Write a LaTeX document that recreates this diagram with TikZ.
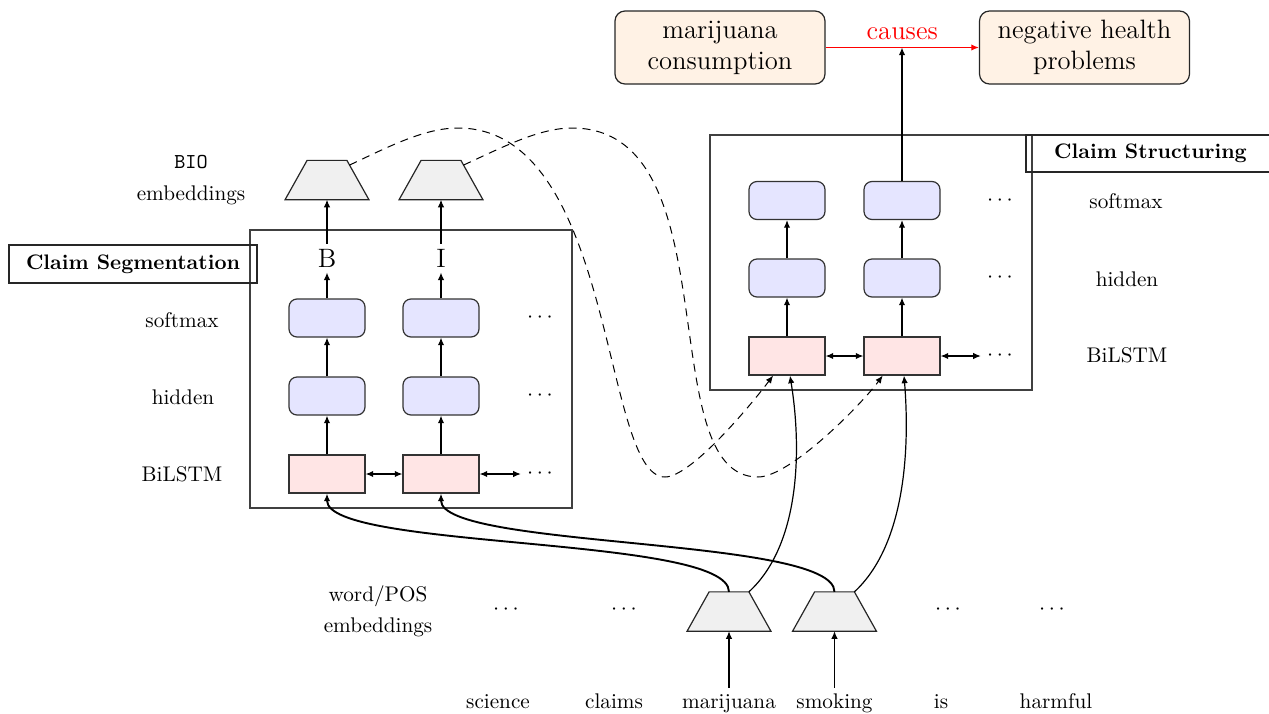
\documentclass[tikz,border=0pt]{standalone}
\usetikzlibrary{shapes.geometric,calc,arrows.meta}
\begin{document}
\begin{tikzpicture}[x=0.5pt,y=-0.5pt,
  lab/.style={font=\fontsize{10.6}{13}\selectfont},
  bigt/.style={font=\fontsize{13.3}{15.5}\selectfont},
  topbox/.style={draw=black!85, fill=orange!10, rounded corners=5pt, minimum width=105pt, minimum height=36.5pt, align=center, line width=0.6pt, font=\fontsize{13.3}{15.5}\selectfont, inner sep=0pt},
  rbox/.style={draw=black!80, fill=blue!10, rounded corners=4pt, minimum width=38pt, minimum height=19pt, inner sep=0pt, line width=0.6pt},
  lbox/.style={draw=black!80, fill=red!10, minimum width=38pt, minimum height=19pt, inner sep=0pt, line width=0.6pt},
  trapbox/.style={minimum width=41.5pt, minimum height=19.25pt, inner sep=0pt},
  trapfill/.style={draw=black!85, fill=gray!12, line width=0.6pt, line join=miter},
  frame/.style={draw=black!75, line width=0.55pt},
  ttl/.style={draw=black!85, line width=0.6pt, font=\fontsize{10.5}{13}\selectfont\bfseries, inner sep=0pt},
  dotsn/.style={inner sep=3pt, font=\fontsize{10.6}{13}\selectfont},
  word/.style={anchor=base, inner sep=3pt, text height=7pt, text depth=2pt, font=\fontsize{10.6}{13}\selectfont},
  tag/.style={inner sep=2.5pt, font=\fontsize{13.3}{15.5}\selectfont},
  arr/.style={-{Latex[length=3.8pt,width=3.2pt]}, line width=0.6pt},
  arrthick/.style={-{Latex[length=3.8pt,width=3.2pt]}, line width=0.95pt},
  darr/.style={{Latex[length=3.8pt,width=3.2pt]}-{Latex[length=3.8pt,width=3.2pt]}, line width=0.6pt},
  redarr/.style={-{Latex[length=3.8pt,width=3.2pt]}, draw=red, line width=0.6pt},
  dcurve/.style={-{Latex[length=3.8pt,width=3.2pt]}, dash pattern=on 4pt off 3pt, line width=0.5pt}
]
\useasboundingbox (0,0) rectangle (1269,713);

% ---- top: claim output
\node[topbox] (mc) at (720,47.5) {marijuana\\consumption};
\node[topbox] (nh) at (1084.5,47.5) {negative health\\problems};
\draw[redarr] (mc) -- node[above, bigt, text=red] (cz) {causes} (nh);

% ---- claim structuring
\draw[frame] (710,135) rectangle (1032,390);
\node[ttl, minimum width=124.5pt, minimum height=18.5pt] (strl) at (1150.5,153.5) {Claim Structuring};

\node[lbox] (sbl1) at (787,356) {};
\node[lbox] (sbl2) at (902,356) {};
\node[rbox] (shd1) at (787,278) {};
\node[rbox] (shd2) at (902,278) {};
\node[rbox] (ssm1) at (787,200.5) {};
\node[rbox] (ssm2) at (902,200.5) {};
\node[dotsn] (sd1) at (1000,200.5) {$\cdots$};
\node[dotsn] (sd2) at (1000,278) {$\cdots$};
\node[dotsn] (sd3) at (1000,356) {$\cdots$};
\node[lab] (sl1) at (1126,201) {softmax};
\node[lab] (sl2) at (1127,279) {hidden};
\node[lab] (sl3) at (1127,355) {BiLSTM};

\draw[arr] (sbl1) -- (shd1);
\draw[arr] (shd1) -- (ssm1);
\draw[arr] (sbl2) -- (shd2);
\draw[arr] (shd2) -- (ssm2);
\draw[darr] (sbl1) -- (sbl2);
\draw[darr] (sbl2) -- (sd3);
\draw[arr] (ssm2) -- (ssm2 |- mc.east);

% ---- claim segmentation
\draw[frame] (250,230) rectangle (572,508);
\node[ttl, minimum width=124pt, minimum height=19pt] (segl) at (133,264) {Claim Segmentation};

\node[lbox] (bl1) at (327,474) {};
\node[lbox] (bl2) at (441,474) {};
\node[rbox] (hd1) at (327,396) {};
\node[rbox] (hd2) at (441,396) {};
\node[rbox] (sm1) at (327,318) {};
\node[rbox] (sm2) at (441,318) {};
\node[tag] (tb) at (327,258) {B};
\node[tag] (ti) at (441,258) {I};
\node[dotsn] (gd1) at (540,318) {$\cdots$};
\node[dotsn] (gd2) at (540,396) {$\cdots$};
\node[dotsn] (gd3) at (540,474) {$\cdots$};
\node[lab] (gl1) at (182,320) {softmax};
\node[lab] (gl2) at (183,397) {hidden};
\node[lab] (gl3) at (182,474) {BiLSTM};

% BIO embedding trapezoids
\node[trapbox] (bio1) at (327,180) {};
\node[trapbox] (bio2) at (441,180) {};
\coordinate (bio1tl) at ($(bio1.north west)+(22,0)$);
\coordinate (bio1tr) at ($(bio1.north east)+(-22,0)$);
\coordinate (bio2tl) at ($(bio2.north west)+(22,0)$);
\coordinate (bio2tr) at ($(bio2.north east)+(-22,0)$);
\draw[trapfill] (bio1.south west) -- (bio1.south east) -- (bio1tr) -- (bio1tl) -- cycle;
\draw[trapfill] (bio2.south west) -- (bio2.south east) -- (bio2tr) -- (bio2tl) -- cycle;
\node[lab] (biol) at (191,162) {\texttt{BIO}};
\node[lab] (bioe) at (191,195) {embeddings};

\draw[arr] (bl1) -- (hd1);
\draw[arr] (hd1) -- (sm1);
\draw[arr] (sm1) -- (tb);
\draw[arr] (tb) -- (bio1);
\draw[arr] (bl2) -- (hd2);
\draw[arr] (hd2) -- (sm2);
\draw[arr] (sm2) -- (ti);
\draw[arr] (ti) -- (bio2);
\draw[darr] (bl1) -- (bl2);
\draw[darr] (bl2) -- (gd3);

% ---- bottom: words and embeddings
\node[trapbox] (wt1) at (729,611.5) {};
\node[trapbox] (wt2) at (834.5,611.5) {};
\coordinate (wt1tl) at ($(wt1.north west)+(22,0)$);
\coordinate (wt1tr) at ($(wt1.north east)+(-22,0)$);
\coordinate (wt2tl) at ($(wt2.north west)+(22,0)$);
\coordinate (wt2tr) at ($(wt2.north east)+(-22,0)$);
\draw[trapfill] (wt1.south west) -- (wt1.south east) -- (wt1tr) -- (wt1tl) -- cycle;
\draw[trapfill] (wt2.south west) -- (wt2.south east) -- (wt2tr) -- (wt2tl) -- cycle;
\node[lab] (wpl) at (378,596) {word/POS};
\node[lab] (wpe) at (378,627) {embeddings};
\node[dotsn] (wd1) at (506,610) {$\cdots$};
\node[dotsn] (wd2) at (624,610) {$\cdots$};
\node[dotsn] (wd3) at (948,610) {$\cdots$};
\node[dotsn] (wd4) at (1052,610) {$\cdots$};

\node[word] (w1) at (498,708) {science};
\node[word] (w2) at (614,708) {claims};
\node[word] (w3) at (729,708) {marijuana};
\node[word] (w4) at (834.5,708) {smoking};
\node[word] (w5) at (941,708) {is};
\node[word] (w6) at (1056,708) {harmful};
\draw[arr] (w3) -- (wt1);
\draw[arr] (w4) -- (wt2);

% ---- solid connectors
\draw[arrthick] (wt1.north) to[out=90,in=-90,looseness=0.35] (bl1.south);
\draw[arrthick] (wt2.north) to[out=90,in=-90,looseness=0.35] (bl2.south);
\draw[arr] (wt1tr) .. controls (800,545) and (802,450) .. ([xshift=1.5pt]sbl1.south);
\draw[arr] (wt2tr) .. controls (905,545) and (910,450) .. ([xshift=1pt]sbl2.south);

% ---- dashed connectors
\coordinate (d1s) at ($(bio1tr)!0.12!(bio1.south east)$);
\coordinate (d1e) at ($(sbl1.south west)!0.32!(sbl1.south east)$);
\coordinate (d2s) at ($(bio2tr)!0.12!(bio2.south east)$);
\coordinate (d2e) at ($(sbl2.south west)!0.25!(sbl2.south east)$);
\draw[dcurve] (d1s) .. controls (390,146) and (425,128) .. (458,128)
  .. controls (616.4,128) and (601.6,477) .. (665,477)
  .. controls (690,477) and (747,410) .. (d1e);
\draw[dcurve] (d2s) .. controls (505,146) and (540,128) .. (572,128)
  .. controls (732.7,128) and (650.5,477) .. (758,477)
  .. controls (790,477) and (861,405) .. (d2e);
\end{tikzpicture}
\end{document}
